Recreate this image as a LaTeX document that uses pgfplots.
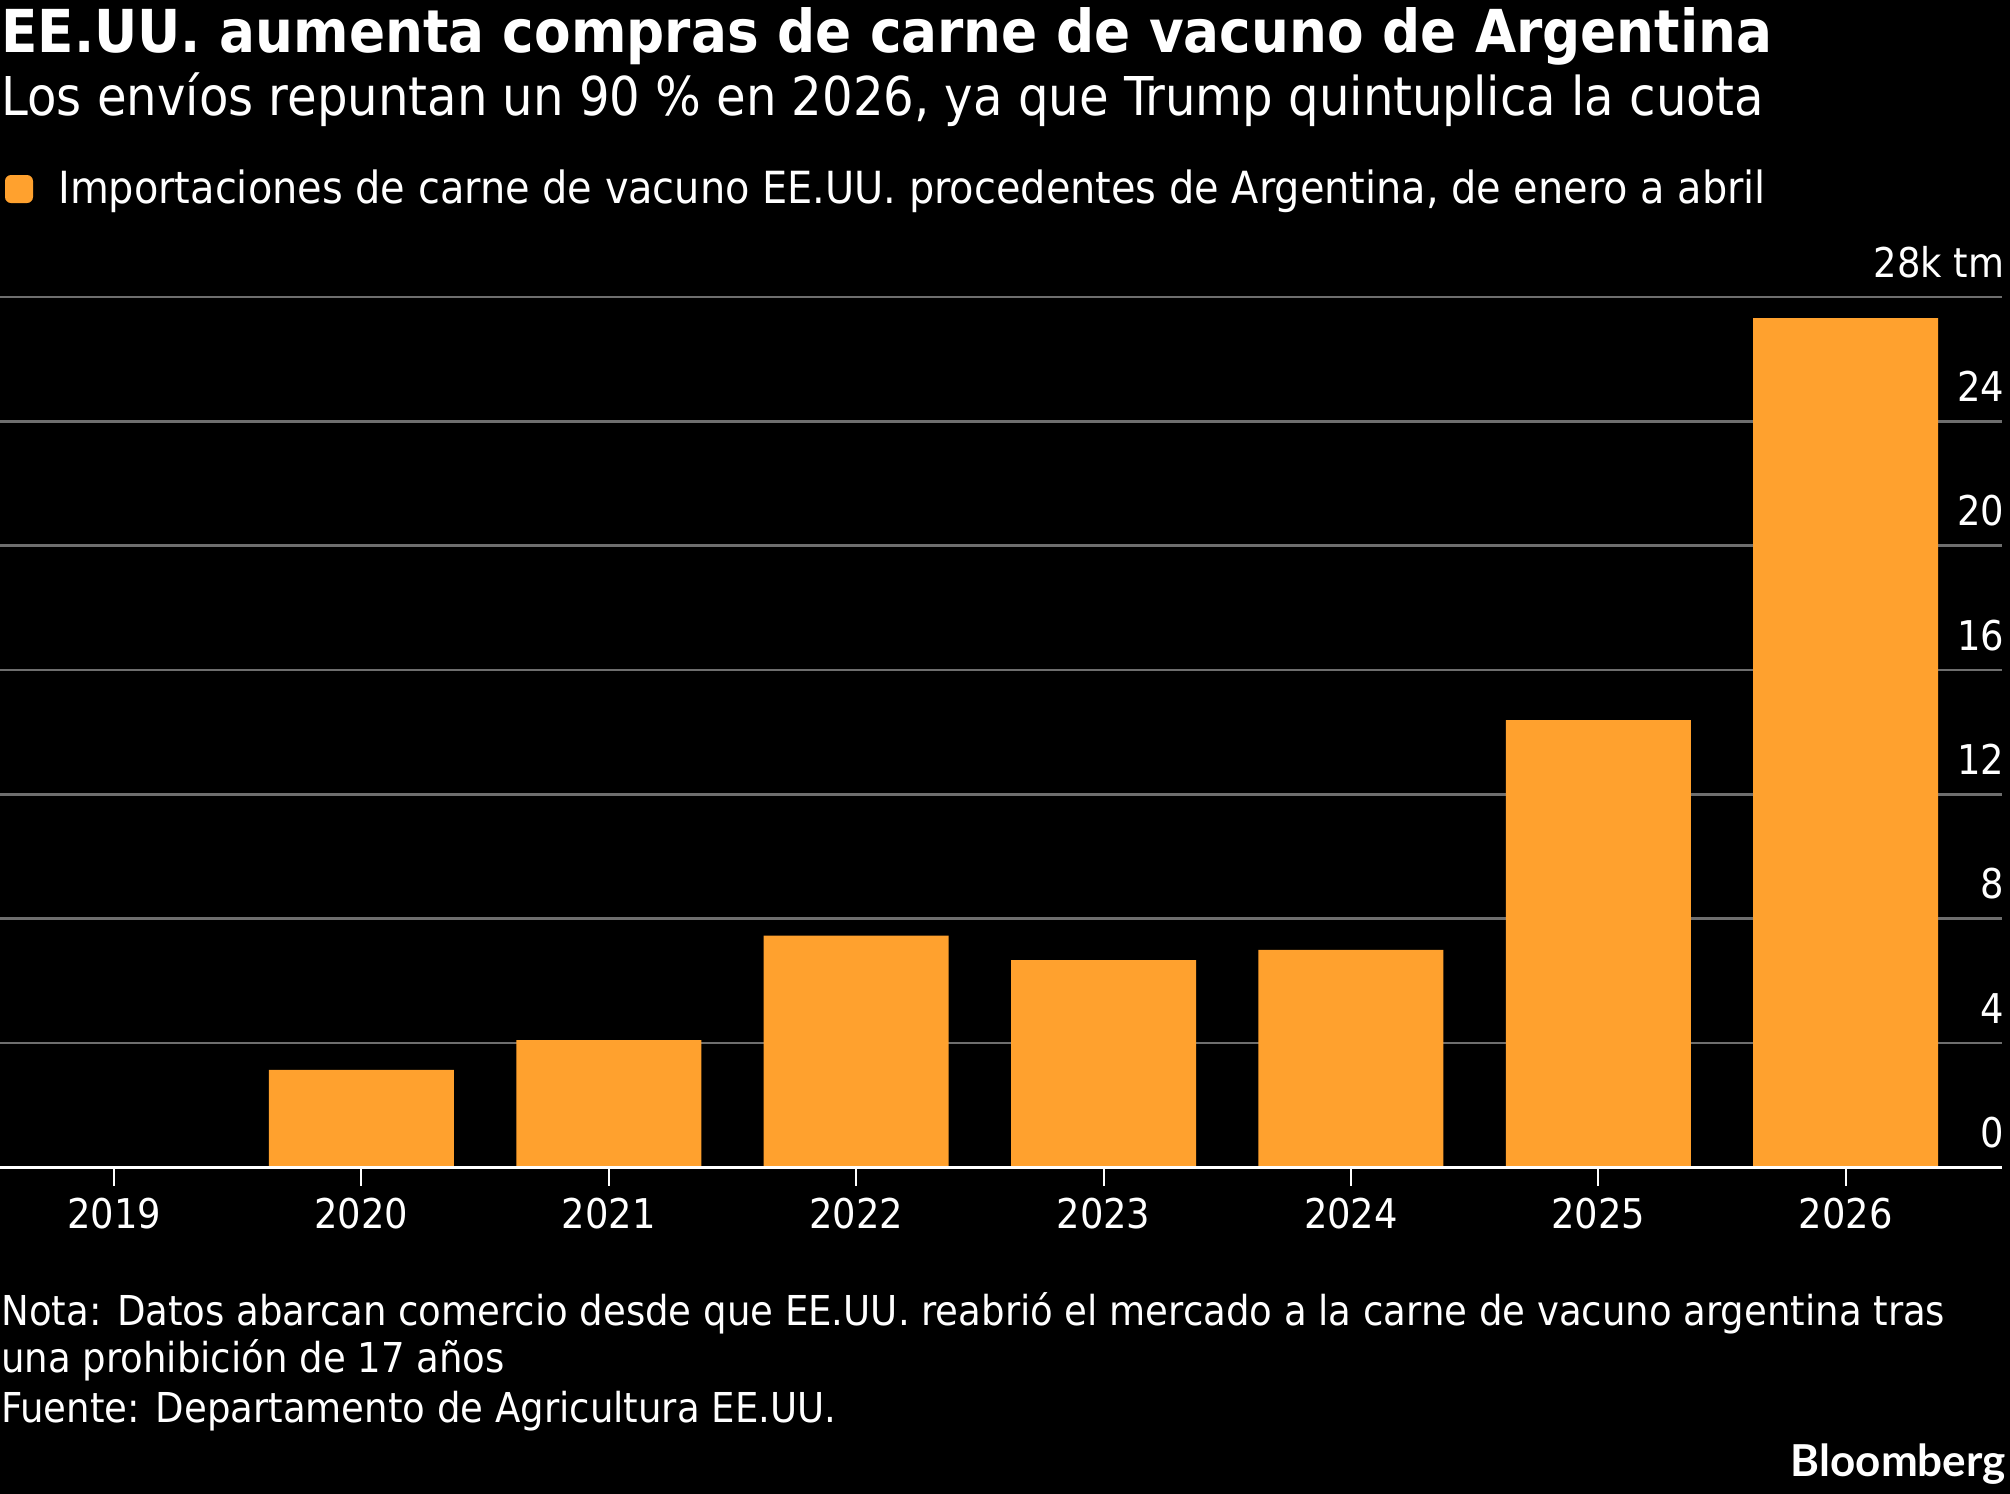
\documentclass[border=0pt]{standalone}
\usepackage{fontspec}
\setmainfont{DejaVu Sans Condensed}
\newfontfamily\logofont{Lato}
\usepackage{pgfplots}
\pgfplotsset{compat=1.18}
\definecolor{barc}{RGB}{255,161,46}
\definecolor{gridc}{RGB}{110,110,110}
\pgfplotstableread{
x y
0 0
1 3.14
2 4.10
3 7.46
4 6.67
5 7.00
6 14.39
7 27.32
}\imports
\begin{document}
\begin{tikzpicture}[x=0.5pt,y=-0.5pt]
\fill[black] (0,0) rectangle (2010,1494);
\useasboundingbox (0,0) rectangle (2010,1494);
\node[anchor=base west, inner sep=0, text=white, font=\fontsize{29.6}{34}\selectfont\bfseries] at (1,52) {EE.UU. aumenta compras de carne de vacuno de Argentina};
\node[anchor=base west, inner sep=0, text=white, font=\fontsize{26.75}{31}\selectfont] at (1,115) {Los envíos repuntan un 90 \% en 2026, ya que Trump quintuplica la cuota};
\fill[barc, rounded corners=3pt] (5,175) rectangle (33,203);
\node[anchor=base west, inner sep=0, text=white, font=\fontsize{22.15}{26}\selectfont] at (58,203) {Importaciones de carne de vacuno EE.UU. procedentes de Argentina, de enero a abril};
\begin{axis}[
  at={(0pt,-583.75pt)}, anchor=south west,
  scale only axis, width=1001pt, height=435.25pt,
  xmin=-0.461, xmax=7.632, ymin=0, ymax=28,
  axis line style={draw=none},
  xtick={0,...,7}, xticklabels={2019,2020,2021,2022,2023,2024,2025,2026},
  ytick={0,4,...,28}, yticklabels={0,4,8,12,16,20,24,{28k\ tm}},
  tick align=outside, major tick length=9pt,
  xtick pos=left,
  x tick style={white, line width=1pt},
  y tick style={draw=none},
  yticklabel pos=right,
  xticklabel style={yshift=-2.5pt},
  yticklabel style={anchor=base east, inner sep=0pt, xshift=-7.8pt, yshift=10pt},
  ticklabel style={text=white, font=\fontsize{20.5}{24}\selectfont},
  ymajorgrids, grid style={gridc, line width=1.3pt},
  clip=false,
]
\addplot[ybar, bar width=92.5pt, bar shift=0pt, fill=barc, draw=none] table[x=x,y=y] {\imports};
\draw[white, line width=1.5pt] (rel axis cs:0,0) -- (rel axis cs:1,0);
\end{axis}
\node[anchor=base west, inner sep=0, text=white, font=\fontsize{20.6}{24}\selectfont] at (1,1325) {Nota: Datos abarcan comercio desde que EE.UU. reabrió el mercado a la carne de vacuno argentina tras};
\node[anchor=base west, inner sep=0, text=white, font=\fontsize{20.6}{24}\selectfont] at (1,1372) {una prohibición de 17 años};
\node[anchor=base west, inner sep=0, text=white, font=\fontsize{20.6}{24}\selectfont] at (1,1422) {Fuente: Departamento de Agricultura EE.UU.};
\node[anchor=base east, inner sep=0, text=white, font=\logofont\bfseries\fontsize{22}{26}\selectfont] at (2006,1476) {Bloomberg};
\end{tikzpicture}
\end{document}
